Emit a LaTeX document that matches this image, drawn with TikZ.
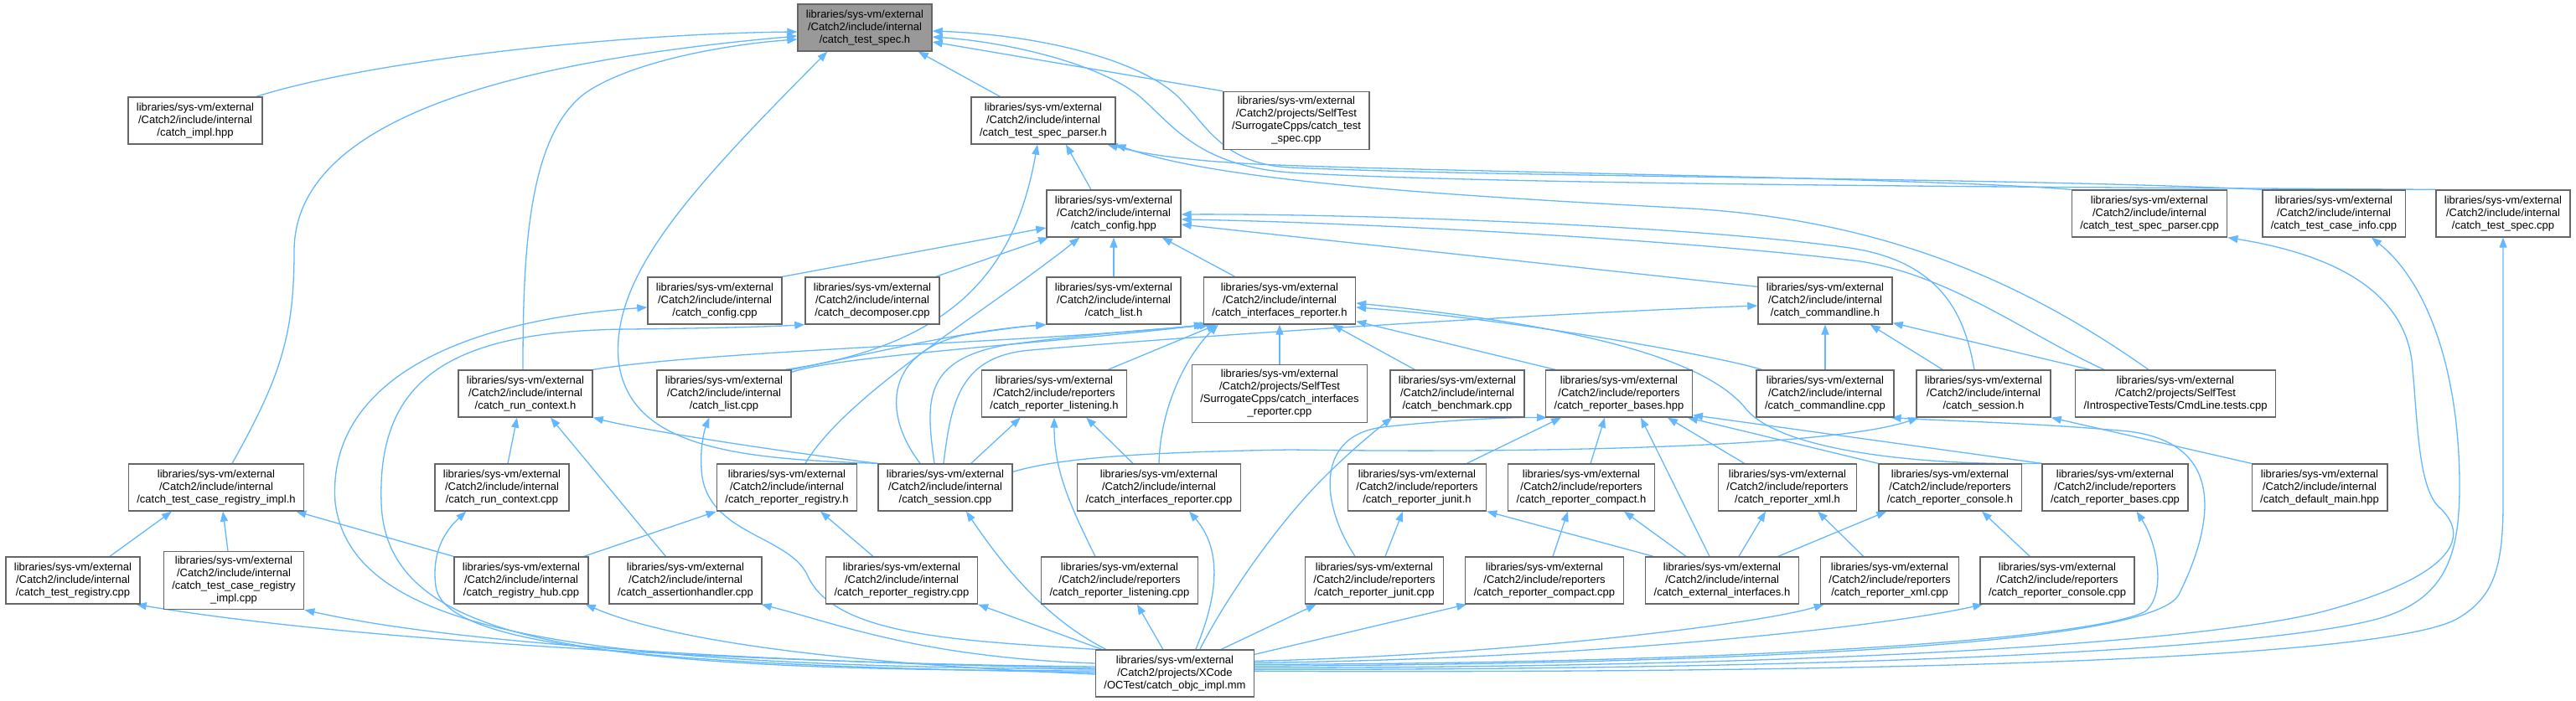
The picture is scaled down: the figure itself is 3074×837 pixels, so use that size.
\documentclass[tikz,border=0pt]{standalone}
\usepackage{fontspec}
\setmainfont{Liberation Sans}
\usetikzlibrary{arrows.meta,backgrounds}
\definecolor{edgeblue}{HTML}{63B8FF}
\definecolor{nodeborder}{HTML}{666666}
\definecolor{rootfill}{HTML}{999999}
\newcommand{\LbInt}{libraries/sys-vm/external\\/Catch2/include/internal\\}
\newcommand{\LbRep}{libraries/sys-vm/external\\/Catch2/include/reporters\\}
\newcommand{\LbST}{libraries/sys-vm/external\\/Catch2/projects/SelfTest\\}
\begin{document}
\begin{tikzpicture}[x=1pt,y=-1pt,
  box/.style={draw=nodeborder, line width=1.3pt, fill=white, align=center,
    font=\fontsize{13}{15}\selectfont, inner xsep=10pt, inner ysep=6pt, minimum height=56pt},
  root/.style={box, fill=rootfill},
  e/.style={draw=edgeblue, line width=1.3pt, -{Triangle[length=12pt,width=9pt]}}]
\begin{scope}[on background layer]
\fill[white] (0,0) rectangle (3074,837);
\end{scope}
\useasboundingbox (0,0) rectangle (3074,837);
% nodes
\node[root] (spech) at (1032,33) {\LbInt/catch\_test\_spec.h};
\node[box] (impl) at (233,144) {\LbInt/catch\_impl.hpp};
\node[box] (parserh) at (1245,144) {\LbInt/catch\_test\_spec\_parser.h};
\node[box] (stspec) at (1547,144) {\LbST/SurrogateCpps/catch\_test\\\_spec.cpp};
\node[box] (confighpp) at (1329,255) {\LbInt/catch\_config.hpp};
\node[box] (parsercpp) at (2565,255) {\LbInt/catch\_test\_spec\_parser.cpp};
\node[box] (caseinfo) at (2785,255) {\LbInt/catch\_test\_case\_info.cpp};
\node[box] (speccpp) at (2987,255) {\LbInt/catch\_test\_spec.cpp};
\node[box] (configcpp) at (853,359) {\LbInt/catch\_config.cpp};
\node[box] (decomp) at (1041,359) {\LbInt/catch\_decomposer.cpp};
\node[box] (listh) at (1329,359) {\LbInt/catch\_list.h};
\node[box] (irep) at (1527,359) {\LbInt/catch\_interfaces\_reporter.h};
\node[box] (cmdh) at (2178,359) {\LbInt/catch\_commandline.h};
\node[box] (runctxh) at (627,470) {\LbInt/catch\_run\_context.h};
\node[box] (listcpp) at (864,470) {\LbInt/catch\_list.cpp};
\node[box] (listenh) at (1258,470) {\LbRep/catch\_reporter\_listening.h};
\node[box] (stirep) at (1527,470) {\LbST/SurrogateCpps/catch\_interfaces\\\_reporter.cpp};
\node[box] (bench) at (1739,470) {\LbInt/catch\_benchmark.cpp};
\node[box] (baseshpp) at (1932,470) {\LbRep/catch\_reporter\_bases.hpp};
\node[box] (cmdcpp) at (2178,470) {\LbInt/catch\_commandline.cpp};
\node[box] (sessh) at (2367,470) {\LbInt/catch\_session.h};
\node[box] (cmdtests) at (2596,470) {\LbST/IntrospectiveTests/CmdLine.tests.cpp};
\node[box] (regimplh) at (258,582) {\LbInt/catch\_test\_case\_registry\_impl.h};
\node[box] (runctxcpp) at (599,582) {\LbInt/catch\_run\_context.cpp};
\node[box] (repregh) at (939,582) {\LbInt/catch\_reporter\_registry.h};
\node[box] (sesscpp) at (1128,582) {\LbInt/catch\_session.cpp};
\node[box] (irepcpp) at (1383,582) {\LbInt/catch\_interfaces\_reporter.cpp};
\node[box] (junith) at (1691,582) {\LbRep/catch\_reporter\_junit.h};
\node[box] (compacth) at (1887,582) {\LbRep/catch\_reporter\_compact.h};
\node[box] (xmlh) at (2133,582) {\LbRep/catch\_reporter\_xml.h};
\node[box] (consoleh) at (2327,582) {\LbRep/catch\_reporter\_console.h};
\node[box] (basescpp) at (2524,582) {\LbRep/catch\_reporter\_bases.cpp};
\node[box] (defmain) at (2768,582) {\LbInt/catch\_default\_main.hpp};
\node[box] (testreg) at (87,693) {\LbInt/catch\_test\_registry.cpp};
\node[box] (regimplcpp) at (279,693) {\LbInt/catch\_test\_case\_registry\\\_impl.cpp};
\node[box] (hub) at (622,693) {\LbInt/catch\_registry\_hub.cpp};
\node[box] (assert) at (818,693) {\LbInt/catch\_assertionhandler.cpp};
\node[box] (repregcpp) at (1076,693) {\LbInt/catch\_reporter\_registry.cpp};
\node[box] (listencpp) at (1336,693) {\LbRep/catch\_reporter\_listening.cpp};
\node[box] (junitcpp) at (1640,693) {\LbRep/catch\_reporter\_junit.cpp};
\node[box] (compactcpp) at (1843,693) {\LbRep/catch\_reporter\_compact.cpp};
\node[box] (extif) at (2055,693) {\LbInt/catch\_external\_interfaces.h};
\node[box] (xmlcpp) at (2255,693) {\LbRep/catch\_reporter\_xml.cpp};
\node[box] (consolecpp) at (2455,693) {\LbRep/catch\_reporter\_console.cpp};
\node[box] (objc) at (1402,804) {libraries/sys-vm/external\\/Catch2/projects/XCode\\/OCTest/catch\_objc\_impl.mm};
% edges
\begin{scope}[on background layer]
% to catch_test_spec.h
\draw[e] ([xshift=-8pt]impl.north east) .. controls (450,70) and (750,40) .. ([yshift=-5pt]spech.west);
\draw[e] ([xshift=19pt]regimplh.north) .. controls (335,450) and (351,400) .. (351,300) .. controls (351,130) and (650,70) .. ([yshift=-10pt]spech.west);
\draw[e] ([xshift=-3pt]runctxh.north) .. controls (624,300) and (630,160) .. (700,110) .. controls (760,70) and (880,52) .. ([yshift=-14pt]spech.west);
\draw[e] (sesscpp.north west) .. controls (880,548) and (750,535) .. (738,430) .. controls (730,330) and (820,230) .. ([xshift=36pt]spech.south west);
\draw[e] ([xshift=35pt]parserh.north west) -- ([xshift=-17pt]spech.south east);
\draw[e] (stspec.north west) -- ([yshift=-17pt]spech.east);
\draw[e] (caseinfo.north west) .. controls (2400,212) and (1800,212) .. (1540,200) .. controls (1460,196) and (1440,150) .. (1410,120) .. controls (1370,75) and (1250,42) .. ([yshift=-4pt]spech.east);
\draw[e] (speccpp.north west) .. controls (2600,224) and (1800,222) .. (1540,206) .. controls (1430,198) and (1400,150) .. (1360,115) .. controls (1310,75) and (1200,50) .. ([yshift=-11pt]spech.east);
% to catch_test_spec_parser.h
\draw[e] ([xshift=-27pt]confighpp.north) -- ([xshift=27pt]parserh.south);
\draw[e] ([xshift=-8pt]listcpp.north east) .. controls (1160,410) and (1215,300) .. ([xshift=-7pt]parserh.south);
\draw[e] (parsercpp.north west) .. controls (2300,212) and (1700,205) .. (1500,196) .. controls (1420,192) and (1370,185) .. ([xshift=-10pt]parserh.south east);
\draw[e] ([xshift=88pt]cmdtests.north west) .. controls (2420,340) and (2250,260) .. (2000,248) .. controls (1700,232) and (1450,215) .. (parserh.south east);
% to catch_config.hpp
\draw[e] (configcpp.north east) -- ([yshift=-17pt]confighpp.west);
\draw[e] ([xshift=-5pt]decomp.north east) -- ([xshift=3pt]confighpp.south west);
\draw[e] ([xshift=22pt]repregh.north) .. controls (1010,470) and (1180,370) .. ([xshift=40pt]confighpp.south west);
\draw[e] (listh) -- (confighpp);
\draw[e] ([xshift=38pt]irep.north west) -- ([xshift=-23pt]confighpp.south east);
\draw[e] ([yshift=-12pt]cmdh.north west) -- ([yshift=-13pt]confighpp.east);
\draw[e] ([xshift=-11pt]sessh.north) .. controls (2345,380) and (2320,310) .. (2200,295) .. controls (2000,268) and (1600,255) .. ([yshift=-1pt]confighpp.east);
\draw[e] ([xshift=35pt]cmdtests.north west) .. controls (2420,400) and (2330,330) .. (2220,312) .. controls (2000,285) and (1600,265) .. ([yshift=-7pt]confighpp.east);
% to catch_interfaces_reporter.h
\draw[e] (runctxh.north east) .. controls (850,418) and (1250,408) .. ([xshift=1pt]irep.south west);
\draw[e] ([yshift=-3pt]listcpp.north east) .. controls (1000,425) and (1250,410) .. ([xshift=4pt]irep.south west);
\draw[e] ([xshift=-13pt]sesscpp.north) .. controls (1105,480) and (1100,430) .. (1200,412) .. controls (1300,398) and (1400,392) .. ([xshift=8pt]irep.south west);
\draw[e] ([xshift=-23pt]listenh.north east) -- ([xshift=16pt]irep.south west);
\draw[e] (irepcpp.north) .. controls (1385,480) and (1420,420) .. ([xshift=18pt]irep.south west);
\draw[e] (stirep) -- (irep);
\draw[e] ([xshift=30pt]bench.north west) -- ([xshift=-28pt]irep.south east);
\draw[e] ([xshift=12pt]baseshpp.north west) -- ([yshift=4pt]irep.south east);
\draw[e] ([xshift=7pt]cmdcpp.north west) .. controls (2050,425) and (1800,380) .. ([yshift=-8pt]irep.east);
\draw[e] (basescpp.north west) .. controls (2300,556) and (2130,540) .. (2085,490) .. controls (2050,445) and (1950,395) .. ([yshift=-3pt]irep.east);
% to catch_reporter_listening.h
\draw[e] ([xshift=-50pt]sesscpp.north east) -- ([xshift=47pt]listenh.south west);
\draw[e] ([xshift=-31pt]irepcpp.north) -- ([xshift=-49pt]listenh.south east);
\draw[e] ([xshift=-29pt]listencpp.north) .. controls (1275,600) and (1258,560) .. (listenh.south);
% to catch_run_context.h
\draw[e] ([xshift=7pt]runctxcpp.north) -- ([xshift=-10pt]runctxh.south);
\draw[e] ([xshift=68pt]assert.north west) -- ([xshift=30pt]runctxh.south);
\draw[e] (sesscpp.north west) .. controls (900,535) and (760,512) .. (runctxh.south east);
% to catch_session.h
\draw[e] ([yshift=-10pt]sesscpp.north east) .. controls (1260,548) and (1350,540) .. (1540,537) .. controls (1900,542) and (2200,530) .. ([xshift=3pt]sessh.south west);
\draw[e] (defmain.north west) -- (sessh.south east);
% to catch_commandline.h
\draw[e] ([xshift=-2pt]sesscpp.north) .. controls (1135,480) and (1145,425) .. (1230,418) .. controls (1500,395) and (1900,372) .. ([yshift=-6pt]cmdh.west);
\draw[e] (cmdcpp) -- (cmdh);
\draw[e] ([xshift=32pt]sessh.north west) -- ([xshift=-27pt]cmdh.south east);
\draw[e] ([xshift=18pt]cmdtests.north west) -- ([yshift=2pt]cmdh.south east);
% to catch_list.h
\draw[e] (listcpp.north east) .. controls (1050,420) and (1150,395) .. (listh.south west);
\draw[e] ([xshift=-30pt]sesscpp.north) .. controls (1050,490) and (1060,420) .. (1150,400) .. controls (1200,392) and (1230,389) .. (listh.south west);
% to catch_reporter_bases.hpp
\draw[e] ([xshift=-23pt]junitcpp.north) .. controls (1575,600) and (1570,520) .. (1650,510) .. controls (1720,502) and (1800,498) .. ([xshift=2pt]baseshpp.south west);
\draw[e] ([xshift=-24pt]junith.north east) -- ([xshift=19pt]baseshpp.south west);
\draw[e] ([xshift=11pt]compacth.north) -- ([xshift=71pt]baseshpp.south west);
\draw[e] ([xshift=-15pt]extif.north) -- ([xshift=26pt]baseshpp.south);
\draw[e] ([xshift=32pt]xmlh.north west) -- ([xshift=-30pt]baseshpp.south east);
\draw[e] (consoleh.north west) -- ([xshift=-6pt]baseshpp.south east);
\draw[e] (basescpp.north west) -- ([yshift=3pt]baseshpp.south east);
% reporter headers
\draw[e] ([xshift=13pt]junitcpp.north) -- ([xshift=-17pt]junith.south);
\draw[e] ([xshift=10pt]extif.north west) -- (junith.south east);
\draw[e] ([xshift=10pt]compactcpp.north) -- ([xshift=-16pt]compacth.south);
\draw[e] ([xshift=49pt]extif.north west) -- ([xshift=-37pt]compacth.south east);
\draw[e] ([xshift=20pt]extif.north) -- ([xshift=-26pt]xmlh.south);
\draw[e] ([xshift=52pt]xmlcpp.north west) -- ([xshift=36pt]xmlh.south);
\draw[e] ([xshift=-25pt]extif.north east) -- ([xshift=10pt]consoleh.south west);
\draw[e] ([xshift=60pt]consolecpp.north west) -- ([xshift=38pt]consoleh.south);
% registry
\draw[e] ([xshift=44pt]testreg.north) -- ([xshift=-53pt]regimplh.south);
\draw[e] ([xshift=-7pt]regimplcpp.north) -- ([xshift=8pt]regimplh.south);
\draw[e] (hub.north west) -- ([xshift=-10pt]regimplh.south east);
\draw[e] ([xshift=-6pt]hub.north east) -- (repregh.south west);
\draw[e] ([xshift=57pt]repregcpp.north west) -- ([xshift=40pt]repregh.south);
% from catch_objc_impl.mm
\draw[e] ([yshift=8pt]objc.west) .. controls (900,792) and (420,765) .. ([xshift=-5pt]testreg.south east);
\draw[e] ([yshift=6pt]objc.west) .. controls (900,790) and (550,770) .. (regimplcpp.south east);
\draw[e] ([yshift=5pt]objc.west) .. controls (700,795) and (420,760) .. (400,600) .. controls (390,470) and (520,385) .. ([yshift=-8pt]configcpp.west);
\draw[e] ([yshift=3pt]objc.west) .. controls (720,800) and (460,775) .. (455,600) .. controls (450,450) and (540,395) .. (750,393) .. controls (850,392) and (920,390) .. (decomp.south west);
\draw[e] ([yshift=1pt]objc.west) .. controls (800,795) and (530,775) .. (520,700) .. controls (515,660) and (530,635) .. ([xshift=38pt]runctxcpp.south west);
\draw[e] ([yshift=-1pt]objc.west) .. controls (1000,792) and (800,765) .. ([xshift=-4pt]hub.south east);
\draw[e] ([yshift=12pt]objc.west) .. controls (1100,785) and (1000,745) .. ([xshift=-1pt]assert.south east);
\draw[e] (objc.north west) .. controls (1150,765) and (1000,760) .. (965,690) .. controls (945,640) and (850,640) .. (838,570) .. controls (834,540) and (840,515) .. ([xshift=63pt]listcpp.south west);
\draw[e] ([xshift=13pt]objc.north west) .. controls (1250,740) and (1200,680) .. ([xshift=25pt]sesscpp.south);
\draw[e] ([xshift=120pt]objc.north west) .. controls (1450,720) and (1462,660) .. ([xshift=36pt]irepcpp.south);
\draw[e] ([xshift=81pt]objc.north west) -- ([xshift=21pt]listencpp.south);
\draw[e] ([xshift=8pt]objc.north west) -- (repregcpp.south east);
\draw[e] ([xshift=125pt]objc.north west) .. controls (1460,720) and (1520,630) .. (1580,570) .. controls (1610,540) and (1640,515) .. ([xshift=3pt]bench.south west);
\draw[e] ([xshift=-40pt]objc.north east) -- ([xshift=14pt]junitcpp.south west);
\draw[e] ([yshift=-6pt]objc.north east) -- ([xshift=2pt]compactcpp.south west);
\draw[e] ([yshift=-14pt]objc.north east) .. controls (1800,782) and (2100,745) .. ([xshift=5pt]xmlcpp.south west);
\draw[e] ([yshift=-16pt]objc.north east) .. controls (1900,787) and (2250,748) .. ([xshift=4pt]consolecpp.south west);
\draw[e] ([yshift=-18pt]objc.north east) .. controls (2100,792) and (2500,762) .. (2560,730) .. controls (2585,710) and (2575,650) .. ([xshift=-62pt]basescpp.south east);
\draw[e] ([yshift=-20pt]objc.north east) .. controls (2150,792) and (2570,765) .. (2600,710) .. controls (2640,630) and (2660,530) .. (2540,515) .. controls (2430,505) and (2330,503) .. ([xshift=-4pt]cmdcpp.south east);
\draw[e] ([yshift=-22pt]objc.north east) .. controls (2200,797) and (2650,765) .. (2780,728) .. controls (2900,695) and (2960,650) .. (2910,605) .. controls (2885,580) and (2885,500) .. (2878,430) .. controls (2865,335) and (2760,300) .. (parsercpp.south east);
\draw[e] ([yshift=-24pt]objc.north east) .. controls (2300,800) and (2750,770) .. (2850,735) .. controls (2920,710) and (2935,660) .. (2935,580) .. controls (2935,450) and (2900,340) .. ([xshift=45pt]caseinfo.south);
\draw[e] ([yshift=-26pt]objc.north east) .. controls (2400,805) and (2850,780) .. (2930,740) .. controls (2975,715) and (2987,680) .. (2987,600) -- (speccpp.south);
\end{scope}
\end{tikzpicture}
\end{document}
